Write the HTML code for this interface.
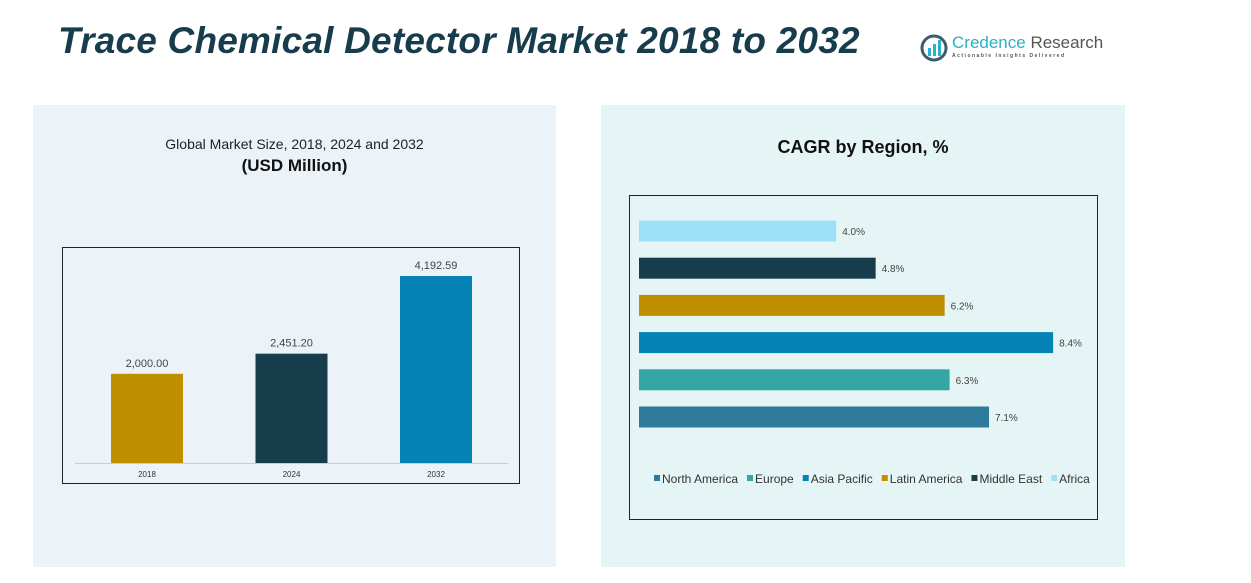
<!DOCTYPE html>
<html><head><meta charset="utf-8"><style>
body{margin:0;width:1251px;height:583px;background:#fff;position:relative;overflow:hidden;font-family:"Liberation Sans",sans-serif}
.abs{position:absolute}
</style></head><body>
<div class="abs" style="left:58px;top:20px;font-size:37px;font-weight:bold;font-style:italic;color:#173d4d;letter-spacing:0.2px">Trace Chemical Detector Market 2018 to 2032</div>
<div class="abs" style="left:920px;top:33px;width:180px;height:30px">
  <svg width="28" height="28" style="position:absolute;left:0;top:1px"><circle cx="14" cy="14" r="12" fill="none" stroke="#3d5c6b" stroke-width="3"/><rect x="8" y="14" width="3" height="8" fill="#2ab0d0"/><rect x="13" y="10" width="3" height="12" fill="#2ab0d0"/><rect x="18" y="6" width="3" height="16" fill="#2ab0d0"/></svg>
  <div class="abs" style="left:32px;top:0;font-size:17px;color:#2ab0c8;white-space:nowrap">Credence <span style="color:#555">Research</span></div>
  <div class="abs" style="left:32px;top:20px;font-size:5px;color:#555;letter-spacing:1.5px;white-space:nowrap;font-weight:bold">Actionable Insights Delivered</div>
</div>
<div class="abs" style="left:33px;top:105px;width:523px;height:462px;background:#ebf3f9"></div>
<div class="abs" style="left:601px;top:105px;width:524px;height:462px;background:#e5f5f6"></div>
<div class="abs" style="left:33px;top:136px;width:523px;text-align:center;font-size:14px;color:#222">Global Market Size, 2018, 2024 and 2032</div>
<div class="abs" style="left:33px;top:156px;width:523px;text-align:center;font-size:17px;font-weight:bold;color:#111">(USD Million)</div>
<div class="abs" style="left:601px;top:137px;width:524px;text-align:center;font-size:18px;font-weight:bold;color:#111">CAGR by Region, %</div>
<svg class="abs" id="svg" style="left:0;top:0" width="1251" height="583">
<rect x="62.5" y="247.5" width="457" height="236" fill="none" stroke="#222"/>
<line x1="75" y1="463.5" x2="508" y2="463.5" stroke="#ccc"/>
<rect x="629.5" y="195.5" width="468" height="324" fill="none" stroke="#222"/>
<g id="lc"></g><g id="rc"></g>
</svg>
<script>
const years=["2018","2024","2032"];
const sizes=[2000.00,2451.20,4192.59];
const sizeLabels=["2,000.00","2,451.20","4,192.59"];
const yearColors=["#bf8f00","#173d4d","#0583b4"];
const regions=["Africa","Middle East","Latin America","Asia Pacific","Europe","North America"];
const cagr=[4.0,4.8,6.2,8.4,6.3,7.1];
const cagrLabels=["4.0%","4.8%","6.2%","8.4%","6.3%","7.1%"];
const regionColors=["#9ee0f7","#173d4d","#bf8f00","#0583b4","#35a6a6","#2e7a9a"];
const NS="http://www.w3.org/2000/svg";
const lc=document.getElementById('lc'),rc=document.getElementById('rc');
const yS=v=>463-v*0.0446;
const xC=i=>147+i*144.5;
function mk(tag,at,p){const e=document.createElementNS(NS,tag);for(const k in at)e.setAttribute(k,at[k]);p.appendChild(e);return e;}
years.forEach((y,i)=>{
 const r=mk('rect',{x:xC(i)-36,y:yS(sizes[i]),width:72,height:463-yS(sizes[i]),fill:yearColors[i]},lc);
 
 
 const t=mk('text',{x:xC(i),y:yS(sizes[i])-7,'text-anchor':'middle','font-size':'11',fill:'#444'},lc);t.textContent=sizeLabels[i];
 
 
 const a=mk('text',{x:xC(i),y:477,'text-anchor':'middle','font-size':'8',fill:'#333'},lc);a.textContent=y;
 
 
});
const xS=v=>639+v*49.3;
const yR=i=>231+i*37.2;
regions.forEach((g,i)=>{
 const r=mk('rect',{x:639,y:yR(i)-10.5,width:xS(cagr[i])-639,height:21,fill:regionColors[i]},rc);
 
 
 const t=mk('text',{x:xS(cagr[i])+6,y:yR(i)+4,'font-size':'10',fill:'#444'},rc);t.textContent=cagrLabels[i];
 
 
});
const legOrder=[5,4,3,2,1,0];
let lx=654;
legOrder.forEach(i=>{
 const s=mk('rect',{x:lx,y:475,width:6,height:6,fill:regionColors[i]},rc);
 
 
 const t=mk('text',{x:lx+8,y:483,'font-size':'12',fill:'#333'},rc);t.textContent=regions[i];
 
 
 lx+=8+t.getComputedTextLength()+9;
});
</script>
</body></html>
